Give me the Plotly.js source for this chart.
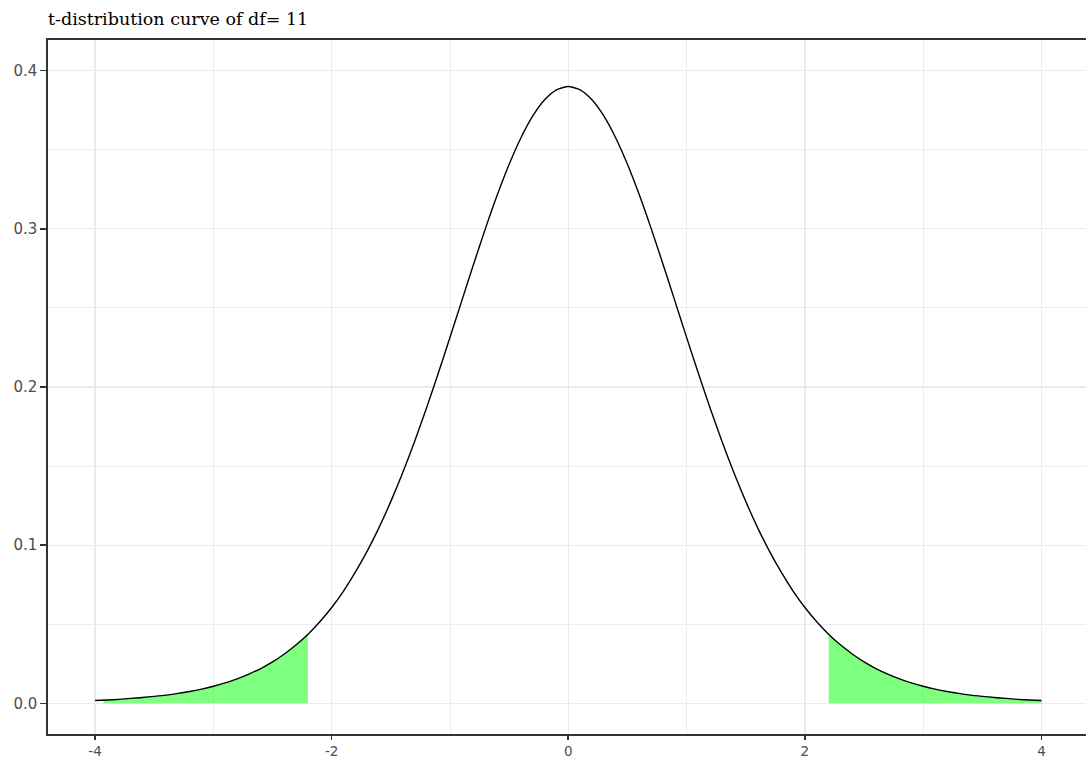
<!DOCTYPE html>
<html>
<head>
<meta charset="utf-8">
<script src="https://cdn.plot.ly/plotly-3.0.1.min.js"></script>
<style>html,body{margin:0;padding:0;background:#fff;}#chart{width:1086px;height:762px;}</style>
</head>
<body>
<div id="chart"></div>
<script>
// t-distribution density (df = 11)
const curveX = [-4.0,-3.9,-3.8,-3.7,-3.6,-3.5,-3.4,-3.3,-3.2,-3.1,-3.0,-2.9,-2.8,-2.7,-2.6,-2.5,-2.4,-2.3,-2.2,-2.1,
                -2.0,-1.9,-1.8,-1.7,-1.6,-1.5,-1.4,-1.3,-1.2,-1.1,-1.0,-0.9,-0.8,-0.7,-0.6,-0.5,-0.4,-0.3,-0.2,-0.1,
                0.0,
                0.1,0.2,0.3,0.4,0.5,0.6,0.7,0.8,0.9,1.0,1.1,1.2,1.3,1.4,1.5,1.6,1.7,1.8,1.9,
                2.0,2.1,2.2,2.3,2.4,2.5,2.6,2.7,2.8,2.9,3.0,3.1,3.2,3.3,3.4,3.5,3.6,3.7,3.8,3.9,4.0];
const curveY = [0.0018,0.0021,0.0025,0.0031,0.0037,0.0044,0.0052,0.0063,0.0075,0.0090,0.0108,0.0129,0.0155,0.0185,0.0220,0.0262,0.0312,0.0370,0.0437,0.0516,
                0.0606,0.0710,0.0829,0.0962,0.1111,0.1277,0.1458,0.1654,0.1864,0.2085,0.2314,0.2546,0.2778,0.3003,0.3215,0.3408,0.3576,0.3714,0.3816,0.3879,
                0.3900,
                0.3879,0.3816,0.3714,0.3576,0.3408,0.3215,0.3003,0.2778,0.2546,0.2314,0.2085,0.1864,0.1654,0.1458,0.1277,0.1111,0.0962,0.0829,0.0710,
                0.0606,0.0516,0.0437,0.0370,0.0312,0.0262,0.0220,0.0185,0.0155,0.0129,0.0108,0.0090,0.0075,0.0063,0.0052,0.0044,0.0037,0.0031,0.0025,0.0021,0.0018];
// shaded rejection regions
const leftTailX = [-3.93,-3.9,-3.8,-3.7,-3.6,-3.5,-3.4,-3.3,-3.2,-3.1,-3.0,-2.9,-2.8,-2.7,-2.6,-2.5,-2.4,-2.3,-2.201];
const leftTailY = [0.0020,0.0021,0.0025,0.0031,0.0037,0.0044,0.0052,0.0063,0.0075,0.0090,0.0108,0.0129,0.0155,0.0185,0.0220,0.0262,0.0312,0.0370,0.0436];
const rightTailX = [2.201,2.3,2.4,2.5,2.6,2.7,2.8,2.9,3.0,3.1,3.2,3.3,3.4,3.5,3.6,3.7,3.8,3.9,4.0];
const rightTailY = [0.0436,0.0370,0.0312,0.0262,0.0220,0.0185,0.0155,0.0129,0.0108,0.0090,0.0075,0.0063,0.0052,0.0044,0.0037,0.0031,0.0025,0.0021,0.0018];
const xTicks = [-4,-2,0,2,4];
const yTicks = [0.0,0.1,0.2,0.3,0.4];
const titleText = 't-distribution curve of df= 11';

const fillColor = 'rgba(0,255,0,0.5)';
const traces = [
  {x:leftTailX, y:leftTailY, type:'scatter', mode:'lines', fill:'tozeroy', fillcolor:fillColor, line:{width:0}, hoverinfo:'skip'},
  {x:rightTailX, y:rightTailY, type:'scatter', mode:'lines', fill:'tozeroy', fillcolor:fillColor, line:{width:0}, hoverinfo:'skip'},
  {x:curveX, y:curveY, type:'scatter', mode:'lines', line:{color:'#000000', width:1.4, shape:'spline', smoothing:0.6}}
];
const grid = '#EBEBEB';
const layout = {
  width:1086, height:762,
  margin:{l:48, r:0, t:40, b:28},
  paper_bgcolor:'#ffffff', plot_bgcolor:'#ffffff',
  showlegend:false,
  title:{text:titleText, x:0, xref:'paper', xanchor:'left', y:1-19/762, yref:'container', yanchor:'middle',
         font:{family:'DejaVu Serif', size:17.5, color:'#000000'}},
  xaxis:{range:[-4.398, 4.376], tickmode:'array', tickvals:xTicks, ticktext:xTicks.map(String), ticks:'outside', ticklen:4, tickwidth:1.6, tickcolor:'#333333',
         ticklabelstandoff:0,
         showline:true, linecolor:'#333333', linewidth:1.6, mirror:true, zeroline:false,
         showgrid:true, gridcolor:grid, gridwidth:1.2,
         minor:{dtick:1, tick0:-3, showgrid:true, gridcolor:grid, gridwidth:0.9},
         tickfont:{family:'DejaVu Sans', size:13.5, color:'#4D4D4D'}},
  yaxis:{range:[-0.0194, 0.4194], tickmode:'array', tickvals:yTicks, ticktext:yTicks.map(v=>v.toFixed(1)), ticks:'outside', ticklen:6, tickwidth:1.6, tickcolor:'#333333',
         showline:true, linecolor:'#333333', linewidth:1.6, mirror:false, zeroline:false,
         showgrid:true, gridcolor:grid, gridwidth:1.2,
         minor:{dtick:0.05, tick0:0.05, showgrid:true, gridcolor:grid, gridwidth:0.9},
         tickfont:{family:'DejaVu Sans', size:15, color:'#4D4D4D'}}
};
Plotly.newPlot('chart', traces, layout, {displayModeBar:false, staticPlot:true});
</script>
</body>
</html>
